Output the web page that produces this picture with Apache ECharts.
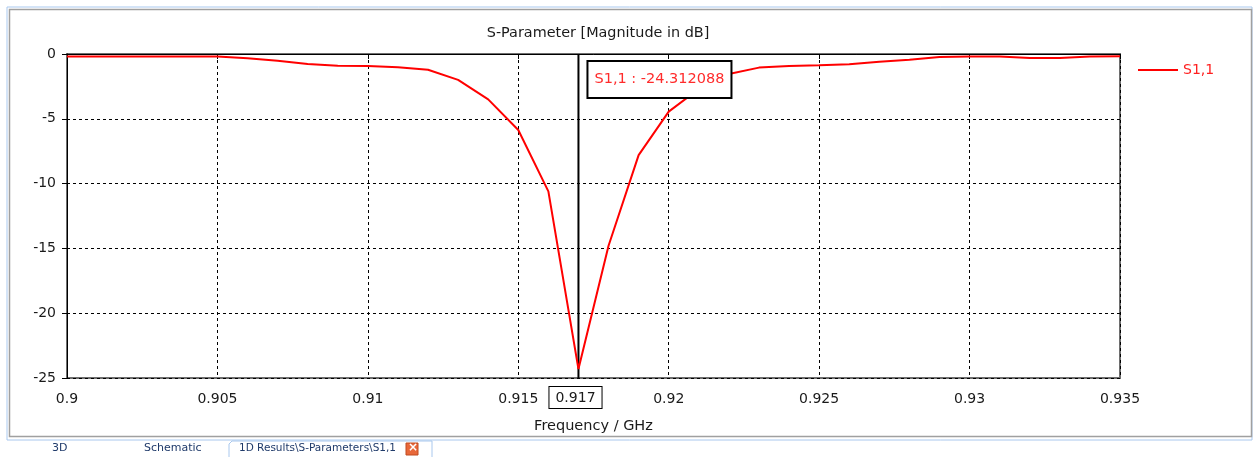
<!DOCTYPE html>
<html>
<head>
<meta charset="utf-8">
<script src="https://cdn.jsdelivr.net/npm/echarts@6/dist/echarts.min.js"></script>
<style>
html,body{margin:0;padding:0;background:#fff;}
#c{width:1253px;height:457px;}
</style>
</head>
<body>
<div id="c"></div>
<script>
var freqs = [0.900,0.901,0.902,0.903,0.904,0.905,0.906,0.907,0.908,0.909,0.910,0.911,0.912,0.913,0.914,0.915,0.916,0.917,0.918,0.919,0.920,0.921,0.922,0.923,0.924,0.925,0.926,0.927,0.928,0.929,0.930,0.931,0.932,0.933,0.934,0.935];
var s11 = [-0.2,-0.2,-0.2,-0.2,-0.2,-0.2,-0.33,-0.52,-0.77,-0.9,-0.93,-1.03,-1.21,-2.0,-3.5,-5.86,-10.6,-24.312088,-14.8,-7.8,-4.45,-2.7,-1.55,-1.05,-0.93,-0.87,-0.8,-0.6,-0.44,-0.23,-0.2,-0.2,-0.3,-0.3,-0.2,-0.18];
var xTicks = [0.9,0.905,0.91,0.915,0.92,0.925,0.93,0.935];
var yTicks = [0,-5,-10,-15,-20,-25];
var markerFreq = 0.917;
var markerValue = -24.312088;
var seriesName = 'S1,1';

var FONT = 'DejaVu Sans';
var chart = echarts.init(document.getElementById('c'), null, {renderer:'canvas'});
var pts = freqs.map(function(f,i){return [f, s11[i]];});
var markerPts = [[markerFreq, yTicks[0]], [markerFreq, yTicks[yTicks.length-1]]];
chart.setOption({
  animation:false,
  backgroundColor:'#ffffff',
  title:{text:'S-Parameter [Magnitude in dB]', left:593, top:21, textAlign:'center',
    textStyle:{fontFamily:FONT, fontSize:14.4, fontWeight:'normal', color:'#1a1a1a'}},
  legend:{left:1133, top:58, itemWidth:40, itemHeight:14, itemGap:6,
    data:[{name:seriesName, icon:'path://M0,6 L40,6 L40,8 L0,8 Z'}],
    textStyle:{fontFamily:FONT, fontSize:14, color:'#ff2020'}},
  grid:{left:67, right:133, top:54, bottom:79, show:true, borderColor:'#6e6e6e', borderWidth:2, backgroundColor:'#fff'},
  xAxis:{type:'value', min:0.9, max:0.935, interval:0.005,
    name:'Frequency / GHz', nameLocation:'middle', nameGap:41,
    nameTextStyle:{fontFamily:FONT, fontSize:14.5, color:'#1a1a1a'},
    axisLine:{show:true, lineStyle:{color:'#000', width:1}},
    axisTick:{show:true, length:5, inside:false, lineStyle:{color:'#000'}},
    axisLabel:{fontFamily:FONT, fontSize:14, color:'#1a1a1a', margin:14,
      formatter:function(v){return String(parseFloat(v.toFixed(3)));}},
    splitLine:{show:true, lineStyle:{color:'#000', type:[3,3], width:1}}},
  yAxis:{type:'value', min:-25, max:0, interval:5,
    axisLine:{show:true, lineStyle:{color:'#000', width:1}},
    axisTick:{show:true, length:5, lineStyle:{color:'#000'}},
    axisLabel:{fontFamily:FONT, fontSize:14, color:'#1a1a1a', margin:11},
    splitLine:{show:true, lineStyle:{color:'#000', type:[3,3], width:1}}},
  series:[{
    name:seriesName, type:'line', data:pts, symbol:'none', showSymbol:false,
    lineStyle:{color:'#ff0000', width:2}, itemStyle:{color:'#ff0000'}, z:3
  },{
    name:'marker', type:'line', data:markerPts, symbol:'none', showSymbol:false,
    lineStyle:{color:'#000', width:2}, itemStyle:{color:'#000'}, z:2, silent:true
  }]
});
var pTop = chart.convertToPixel({gridIndex:0}, [markerFreq, yTicks[0]]);
var pBot = chart.convertToPixel({gridIndex:0}, [markerFreq, yTicks[yTicks.length-1]]);
chart.setOption({
  graphic:[
    {type:'rect', shape:{x:7,y:7,width:1245,height:433}, style:{fill:'none', stroke:'#a9c8ee', lineWidth:1}, silent:true, z:-10},
    {type:'rect', shape:{x:9.5,y:9.5,width:1242,height:427}, style:{fill:'none', stroke:'#a0a0a0', lineWidth:1.5}, silent:true, z:-10},
    {type:'text', x:pTop[0]+10, y:pTop[1]+8, z:20, style:{text:seriesName+' : '+markerValue.toFixed(6),
      font:'14.5px '+FONT, fill:'#ff2b2b', backgroundColor:'#fff', borderColor:'#000', borderWidth:2,
      padding:[10,6,10,6]}},
    {type:'text', x:pBot[0]-29, y:pBot[1]+9, z:20, style:{text:String(markerFreq),
      font:'14px '+FONT, fill:'#1a1a1a', backgroundColor:'#fff', borderColor:'#000', borderWidth:1,
      padding:[4,6,3,6]}},
    {type:'text', left:52, top:443, style:{text:'3D', font:'11px '+FONT, fill:'#1f3a6a'}},
    {type:'text', left:144, top:443, style:{text:'Schematic', font:'11px '+FONT, fill:'#1f3a6a'}},
    {type:'polyline', shape:{points:[[229,457],[229,444],[232,441],[432,441],[432,457]]}, style:{fill:'#fff', stroke:'#a9c8ee', lineWidth:1}},
    {type:'text', left:239, top:443, style:{text:'1D Results\\S-Parameters\\S1,1', font:'10.5px '+FONT, fill:'#1f3a6a'}},
    {type:'rect', shape:{x:406,y:443,width:12,height:12}, style:{fill:'#e8683a', stroke:'#c04a20'}},
    {type:'text', left:408, top:442, style:{text:'×', font:'bold 12px '+FONT, fill:'#fff'}}
  ]
});
</script>
</body>
</html>
